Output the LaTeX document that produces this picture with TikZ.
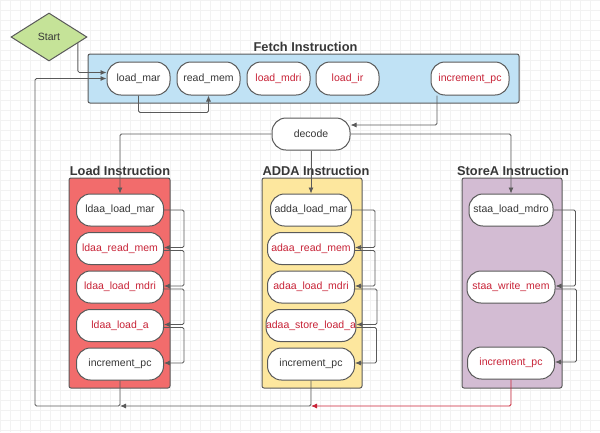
\documentclass[tikz,border=0pt]{standalone}
\usepackage{fontspec}
\setmainfont{Liberation Sans}
\usetikzlibrary{shapes.geometric,arrows.meta}

\definecolor{lineGray}{RGB}{90,90,90}
\definecolor{txtGray}{RGB}{55,55,55}
\definecolor{txtRed}{RGB}{200,35,55}
\definecolor{fetchBlue}{RGB}{192,226,245}
\definecolor{loadRed}{RGB}{242,108,108}
\definecolor{addaYellow}{RGB}{253,231,158}
\definecolor{storePurple}{RGB}{211,188,211}
\definecolor{startGreen}{RGB}{197,227,152}
\definecolor{gridGray}{RGB}{242,242,242}

\begin{document}
\begin{tikzpicture}[x=1pt,y=-1pt,
    stage/.style={rectangle, rounded corners=14pt, draw=lineGray, line width=1pt,
      fill=white, minimum width=87pt, minimum height=32pt, inner sep=1pt,
      text=txtGray, font=\fontsize{10.5}{12}\selectfont},
    redstage/.style={stage, text=txtRed},
    box/.style={rectangle, rounded corners=2pt, draw=lineGray, line width=1pt,
      minimum width=100pt, minimum height=210pt},
    title/.style={text=txtGray, font=\fontsize{12.8}{14}\selectfont\bfseries},
    flow/.style={draw=lineGray, line width=0.8pt, rounded corners=1.5pt,
      -{Latex[length=6pt,width=5pt]}}]

      \useasboundingbox (0,0) rectangle (600,432);
      \draw[gridGray, line width=0.4pt, step=10pt] (0,0) grid (600,432);

      %% start + fetch
      \node (Start) at (49,37) [diamond, aspect=1.6, draw=lineGray, line width=1pt,
        fill=startGreen, minimum width=76pt, minimum height=48pt, inner sep=0pt,
        text=txtGray, font=\fontsize{10.5}{12}\selectfont] {Start};

      \node (FetchBox) at (303.5,78.5) [box, fill=fetchBlue, minimum width=431pt, minimum height=49pt] {};
      \node (FetchTitle) at (305.5,47) [title] {Fetch Instruction};

      \node (F1) at (138.5,78.5) [stage, minimum width=63pt, minimum height=33pt] {load\_mar};
      \node (F2) [stage, minimum width=63pt, minimum height=33pt, node distance=70pt, right of=F1] {read\_mem};
      \node (F3) [redstage, minimum width=63pt, minimum height=33pt, node distance=70pt, right of=F2] {load\_mdri};
      \node (F4) [redstage, minimum width=63pt, minimum height=33pt, node distance=69pt, right of=F3] {load\_ir};
      \node (F5) [redstage, minimum width=78pt, minimum height=33pt, node distance=122.5pt, right of=F4] {increment\_pc};

      \node (Decode) at (311,134) [stage, minimum width=78pt] {decode};

      %% load
      \node (LoadBox) at (119.5,283) [box, fill=loadRed, minimum width=101pt] {};
      \node (LoadTitle) at (120,170.5) [title] {Load Instruction};

      \node (L1) at (120,210) [stage] {ldaa\_load\_mar};
      \node (L2) [redstage, node distance=38.5pt, below of=L1] {ldaa\_read\_mem};
      \node (L3) [redstage, node distance=38.5pt, below of=L2] {ldaa\_load\_mdri};
      \node (L4) [redstage, node distance=38.5pt, below of=L3] {ldaa\_load\_a};
      \node (L5) [stage, node distance=38.5pt, below of=L4] {increment\_pc};

      %% adda
      \node (AddaBox) at (312,283) [box, fill=addaYellow] {};
      \node (AddaTitle) at (316,170.5) [title] {ADDA Instruction};

      \node (A1) at (311,210) [stage, minimum width=81pt] {adda\_load\_mar};
      \node (A2) [redstage, node distance=38.5pt, below of=A1] {adaa\_read\_mem};
      \node (A3) [redstage, node distance=38.5pt, below of=A2] {adaa\_load\_mdri};
      \node (A4) [redstage, inner xsep=0pt, node distance=38.5pt, below of=A3] {adaa\_store\_load\_a};
      \node (A5) [stage, node distance=38.5pt, below of=A4] {increment\_pc};

      %% storea
      \node (StoreBox) at (512,283) [box, fill=storePurple] {};
      \node (StoreTitle) at (513,170.5) [title] {StoreA Instruction};

      \node (S1) at (511,210) [stage, minimum width=84pt] {staa\_load\_mdro};
      \node (S2) [redstage, minimum width=88pt, node distance=77pt, below of=S1] {staa\_write\_mem};
      \node (S3) [redstage, node distance=76pt, below of=S2] {increment\_pc};

      \coordinate (Corner) at (35,406);
      \coordinate (JoinL) at (L5.south |- Corner);
      \coordinate (JoinA) at (A5.south |- Corner);

      %% connectors
      \draw[flow] (Start.-12) |- ([yshift=6pt]F1.west);
      \draw[flow] (F1.south) -- ++(0,17) -| (F2.south);
      \draw[flow] ([xshift=-33pt]F5.south) |- ([yshift=9pt]Decode.east);

      \draw[flow] (Decode.west) -| (L1.north);
      \draw[flow] (Decode.south) -- (A1.north);
      \draw[flow] (Decode.east) -| (S1.north);

      \draw[flow] (L1.east) -- ++(20,0) |- ([yshift=1pt]L2.east);
      \draw[flow] ([yshift=-2pt]L2.east) -- ++(20,0) |- ([yshift=1pt]L3.east);
      \draw[flow] ([yshift=-2pt]L3.east) -- ++(20,0) |- ([yshift=1pt]L4.east);
      \draw[flow] ([yshift=-2pt]L4.east) -- ++(20,0) |- ([yshift=1pt]L5.east);

      \draw[flow] (A1.east) -- ++(23,0) |- ([yshift=1pt]A2.east);
      \draw[flow] ([yshift=-2pt]A2.east) -- ++(20,0) |- ([yshift=1pt]A3.east);
      \draw[flow] ([yshift=-2pt]A3.east) -- ++(22,0) |- ([yshift=1pt]A4.east);
      \draw[flow] ([yshift=-2pt]A4.east) -- ++(20,0) |- ([yshift=1pt]A5.east);

      \draw[flow] (S1.east) -- ++(22,0) |- ([yshift=1pt]S2.east);
      \draw[flow] ([yshift=-2pt]S2.east) -- ++(21,0) |- ([yshift=1pt]S3.east);

      \draw[flow] (L5.south) |- (Corner) |- (F1.west);
      \draw[flow] (A5.south) |- (JoinL);
      \draw[flow, draw=txtRed] (S3.south) |- (JoinA);

\end{tikzpicture}
\end{document}
